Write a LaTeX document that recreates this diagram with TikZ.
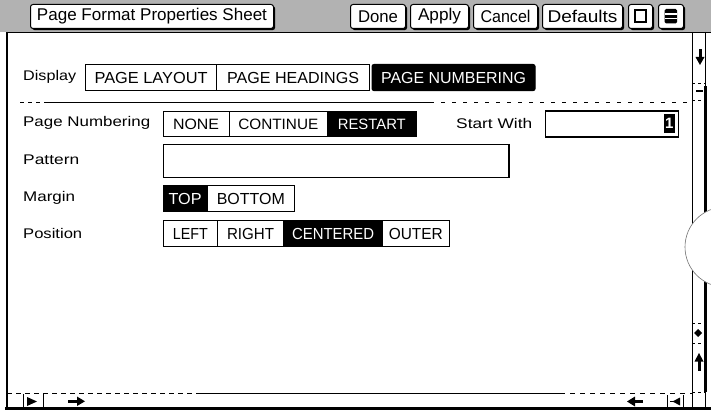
\documentclass[tikz,border=0pt]{standalone}
\usepackage{fontspec}
\setmainfont{Liberation Sans}
\usepackage{graphicx}
\usetikzlibrary{shadows}
% set a text to a given width (in pt), keeping its natural height
\newcommand\fitw[2]{\resizebox{#1pt}{\height}{#2}}

\begin{document}
\begin{tikzpicture}[x=1pt,y=-1pt,
  titlebtn/.style={draw=black, line width=1pt, fill=white, rounded corners=2.5pt,
    anchor=north west, minimum height=24pt, inner sep=0pt, font=\fontsize{17}{18}\selectfont,
    drop shadow={shadow xshift=1.6pt, shadow yshift=-1.6pt, fill=black, opacity=1}},
  cell/.style={draw=black, line width=1.1pt, fill=white, anchor=north west, inner sep=0pt},
  cellon/.style={cell, fill=black, text=white},
  rowa/.style={minimum height=26pt, font=\fontsize{16}{17}\selectfont},
  rowb/.style={minimum height=25pt, font=\fontsize{15}{16}\selectfont},
  rowc/.style={minimum height=26pt, font=\fontsize{16}{17}\selectfont},
  fieldlabel/.style={anchor=west, inner sep=0pt, font=\fontsize{14}{15}\selectfont},
  frameline/.style={line width=1.3pt},
  sepline/.style={line width=0.8pt},
  tickline/.style={line width=0.8pt, dash pattern=on 3pt off 3pt}
]
\useasboundingbox (0,0) rectangle (711,411);
\fill[white] (0,0) rectangle (711,411);

% ---- title bar ----
\fill[black!30] (0,0) rectangle (711,32);
\draw[sepline] (7,32) -- (711,32);

\node[titlebtn, minimum width=243pt] (sheet) at (30,4) {\fitw{230}{Page Format Properties Sheet}};
\node[titlebtn, minimum width=55pt] (done) at (350,4) {\fitw{40}{Done}};
\node[titlebtn, minimum width=58pt] (apply) at (410,4) {\fitw{43}{Apply}};
\node[titlebtn, minimum width=64pt] (cancel) at (473,4) {\fitw{50}{Cancel}};
\node[titlebtn, minimum width=80pt] (defaults) at (542,4) {\fitw{70}{Defaults}};
\node[titlebtn, minimum width=24pt] (winbtn) at (628,4) {};
\node[titlebtn, minimum width=25pt] (menubtn) at (658,4) {};
% window icon
\draw[line width=2pt] (634.5,10) rectangle (645.5,22.5);
% menu icon
\fill[rounded corners=1.5pt] (664.5,9) rectangle (677,23.5);
\draw[white, line width=1.3pt] (664.5,14) -- (677,14) (664.5,18.6) -- (677,18.6);

% ---- window frame ----
\draw[frameline] (7,32) -- (7,409);
\draw[line width=1pt] (692,32) -- (692,409);
\draw[line width=1pt] (705,32) -- (705,409);
\fill (703.5,86) rectangle (707,392);
\fill (5,406.5) rectangle (711,410);

% ---- scroll bar ----
\fill (698.5,49) rectangle (701.5,58);
\fill (695.5,57) -- (704.5,57) -- (700,65) -- cycle;
\draw[tickline] (692,83) -- (705,83);
\fill (696,90) rectangle (703,92.5);
\draw[tickline] (692,100) -- (705,100);
% rounded bulge on the scroll bar edge
\begin{scope}
  \clip (660,150) rectangle (711,320);
  \draw[black!55, fill=white, line width=0.6pt] (725,247) circle[radius=40pt];
\end{scope}
\draw[tickline] (692,323) -- (705,323);
\fill (698,329) -- (702,333) -- (698,337) -- (694,333) -- cycle;
\draw[tickline] (692,343) -- (705,343);
\fill (697.5,360) rectangle (700.5,371);
\fill (694.5,361.5) -- (703.5,361.5) -- (699,353) -- cycle;
\draw[tickline] (692,392) -- (705,392);

% ---- bottom scroll bar ----
\draw[sepline, dash pattern=on 5pt off 4pt] (7,393) -- (200,393);
\draw[sepline] (200,393) -- (560,393);
\draw[sepline, dash pattern=on 5pt off 5pt] (560,393) -- (692,393);
\draw[line width=1pt] (23,394) -- (23,407);
\draw[line width=1pt] (43,394) -- (43,407);
\fill (27,397) -- (37,401.5) -- (27,406) -- cycle;
\fill (68,399.8) rectangle (78,402.8);
\fill (77,396.5) -- (85,401.3) -- (77,406) -- cycle;
\fill (634,400) rectangle (643,403);
\fill (635,396.5) -- (627,401.5) -- (635,406.5) -- cycle;
\draw[line width=1pt] (667,395) -- (667,407);
\draw[line width=1pt] (670,401.5) -- (673,401.5);
\fill (680,397.5) -- (672.5,401.5) -- (680,405.5) -- cycle;
\draw[line width=1pt] (683,395) -- (683,407);

% ---- Display ----
\node[fieldlabel] (lbldisplay) at (23,77) {\fitw{53}{Display}};
\node[cell, rowa, minimum width=131pt] (layout) at (85,64) {\fitw{113}{PAGE LAYOUT}};
\node[cell, rowa, minimum width=153pt] (headings) at (216,64) {\fitw{132}{PAGE HEADINGS}};
\node[cellon, rowa, minimum width=163pt, rounded corners=2pt] (numbering) at (371.5,64) {\fitw{145}{PAGE NUMBERING}};

\draw[sepline, dash pattern=on 4pt off 4pt] (20,102) -- (48,102);
\draw[sepline] (48,102) -- (430,102);
\draw[sepline, dash pattern=on 4pt off 7pt] (430,102) -- (690,102);

% ---- Page Numbering ----
\node[fieldlabel] (lblnumbering) at (23,123) {\fitw{127}{Page Numbering}};
\node[cell, rowb, minimum width=66pt] (none) at (162.5,111) {\fitw{46}{NONE}};
\node[cell, rowb, minimum width=98.5pt] (continue) at (228.5,111) {\fitw{80}{CONTINUE}};
\node[cellon, rowb, minimum width=88.5pt] (restart) at (327,111) {\fitw{68}{RESTART}};
\node[fieldlabel] (lblstart) at (456,123) {\fitw{76}{Start With}};
\node[cell, line width=1.2pt, minimum width=133pt, minimum height=26pt] (startbox) at (545,110.5) {};
\node[fill=black, text=white, anchor=north east, minimum width=11pt, minimum height=19pt,
  inner sep=0pt, font=\fontsize{15}{16}\selectfont\bfseries] (startval) at (675,114) {1};

% ---- Pattern ----
\node[fieldlabel] (lblpattern) at (23,160) {\fitw{56}{Pattern}};
\node[cell, minimum width=345pt, minimum height=33pt] (pattern) at (162.5,144) {};
\draw[line width=2pt] (pattern.north east) -- (pattern.south east);

% ---- Margin ----
\node[fieldlabel] (lblmargin) at (23,198) {\fitw{52}{Margin}};
\node[cellon, rowc, minimum width=44pt] (top) at (162.5,185) {\fitw{33}{TOP}};
\node[cell, rowc, minimum width=87.5pt] (bottom) at (206.5,185) {\fitw{68}{BOTTOM}};

% ---- Position ----
\node[fieldlabel] (lblposition) at (23,233) {\fitw{59}{Position}};
\node[cell, rowc, minimum width=54.5pt] (left) at (162.5,220) {\fitw{35}{LEFT}};
\node[cell, rowc, minimum width=66pt] (right) at (217,220) {\fitw{47}{RIGHT}};
\node[cellon, rowc, minimum width=99pt] (centered) at (283,220) {\fitw{82}{CENTERED}};
\node[cell, rowc, minimum width=66.5pt] (outer) at (382,220) {\fitw{54}{OUTER}};
\end{tikzpicture}
\end{document}
